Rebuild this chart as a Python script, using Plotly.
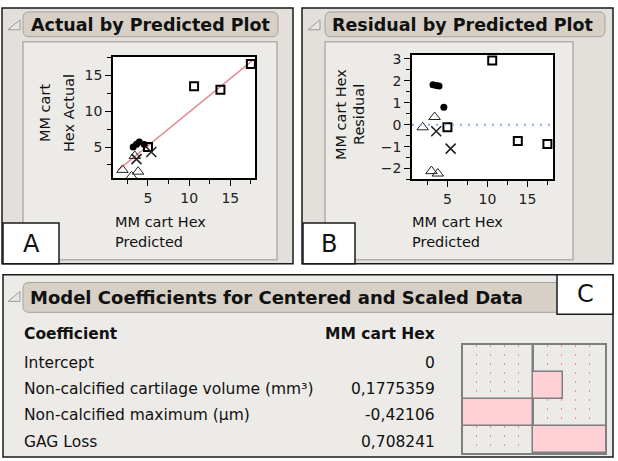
import plotly.graph_objects as go

W, H = 618, 461
FONT = "DejaVu Sans"

# --- data ---
# groups of points (predicted, actual, residual)
sq_pred = [5.0, 10.6, 13.8, 17.5]
sq_actual = [5.0, 13.5, 13.0, 16.6]
sq_resid = [-0.12, 2.93, -0.75, -0.88]

ci_pred = [3.2, 3.6, 3.95, 4.55]
ci_actual = [5.0, 5.4, 5.7, 5.35]
ci_resid = [1.82, 1.79, 1.77, 0.79]

tr_pred = [1.9, 3.4, 3.0, 3.8]
tr_actual = [1.8, 3.75, 0.9, 1.55]
tr_resid = [-0.12, 0.35, -2.12, -2.23]

xx_pred = [3.6, 5.4]
xx_actual = [3.3, 4.3]
xx_resid = [-0.3, -1.09]

fit_x = [1.4, 17.6]
fit_y = [1.8, 17.0]

coef_names = ["Intercept", "Non-calcified cartilage volume (mm³)",
              "Non-calcified maximum (µm)", "GAG Loss"]
coef_values = [0.0, 0.1775359, -0.42106, 0.708241]
coef_labels = ["0", "0,1775359", "-0,42106", "0,708241"]


def X(p):
    return p / W


def Y(p):
    return 1 - p / H


def rect(x0, y0, x1, y1, fill, line="rgba(0,0,0,0)", width=1):
    return dict(type="rect", xref="paper", yref="paper", layer="below",
                x0=X(x0), x1=X(x1), y0=Y(y1), y1=Y(y0),
                fillcolor=fill, line=dict(color=line, width=width))


def rrect(x0, y0, x1, y1, r, fill, line):
    pts = [("M", x0 + r, y0), ("L", x1 - r, y0), ("Q", x1, y0, x1, y0 + r),
           ("L", x1, y1 - r), ("Q", x1, y1, x1 - r, y1), ("L", x0 + r, y1),
           ("Q", x0, y1, x0, y1 - r), ("L", x0, y0 + r), ("Q", x0, y0, x0 + r, y0)]
    path = ""
    for p in pts:
        cmd, vals = p[0], p[1:]
        coords = []
        for i in range(0, len(vals), 2):
            coords.append(f"{X(vals[i]):.5f},{Y(vals[i + 1]):.5f}")
        path += cmd + " " + " ".join(coords) + " "
    return dict(type="path", xref="paper", yref="paper", layer="below",
                path=path + "Z", fillcolor=fill, line=dict(color=line, width=1))


def tri(x0, y0):
    path = f"M {X(x0):.5f},{Y(y0 + 10):.5f} L {X(x0 + 12):.5f},{Y(y0 + 10):.5f} L {X(x0 + 12):.5f},{Y(y0):.5f} Z"
    return dict(type="path", xref="paper", yref="paper", layer="below",
                path=path, fillcolor="#E8E6E3", line=dict(color="#9A9A9A", width=1))


def text(s, x, y, size=15, bold=False, xanchor="left", angle=0):
    return dict(text=f"<b>{s}</b>" if bold else s, x=X(x), y=Y(y),
                xref="paper", yref="paper", showarrow=False,
                xanchor=xanchor, yanchor="middle", textangle=angle,
                font=dict(family=FONT, size=size, color="#111"))


PANEL = "#E3E0DC"
INNER = "#EDEBE8"
HEAD = "#D6D0C6"

shapes = [
    # panel A
    rect(2, 4, 293, 262, PANEL, "#1A1A1A", 1.5),
    rect(23, 38, 277, 258, INNER, "#B3AFAA", 1.5),
    rrect(23, 8, 278, 33, 6, HEAD, "#A8A198"),
    tri(8, 16),
    rect(113, 53, 255, 176, "white"),
    rect(3, 221, 59, 262, "white", "#1A1A1A", 1.5),
    # panel B
    rect(302, 4, 613, 262, PANEL, "#1A1A1A", 1.5),
    rect(325, 38, 573, 258, INNER, "#B3AFAA", 1.5),
    rrect(325, 8, 605, 33, 6, HEAD, "#A8A198"),
    tri(308, 16),
    rect(412, 51, 553, 177, "white"),
    rect(303, 221, 355, 262, "white", "#1A1A1A", 1.5),
    # panel C
    rect(3, 273, 613, 457, INNER, "#1A1A1A", 1.5),
    rrect(23, 281, 575, 311, 6, HEAD, "#A8A198"),
    tri(8, 290),
    rect(557, 273, 613, 313, "white", "#1A1A1A", 1.5),
    # zero reference line in residual plot
    dict(type="line", xref="x2 domain", yref="y2", x0=0, x1=1, y0=0, y1=0,
         line=dict(color="#8FA3EE", width=2, dash="2px,6px")),
]

annotations = [
    text("Actual by Predicted Plot", 29, 21, 17.5, True),
    text("Residual by Predicted Plot", 330, 21, 17.5, True),
    text("Model Coefficients for Centered and Scaled Data", 28, 296, 18, True),
    text("A", 31, 242, 24, xanchor="center"),
    text("B", 329, 242, 24, xanchor="center"),
    text("C", 585, 293, 24, xanchor="center"),
    text("MM cart", 45, 110, 14.5, xanchor="center", angle=-90),
    text("Hex Actual", 69, 110, 14.5, xanchor="center", angle=-90),
    text("MM cart Hex", 341, 112, 14.5, xanchor="center", angle=-90),
    text("Residual", 359, 112, 14.5, xanchor="center", angle=-90),
    text("MM cart Hex", 113, 220, 14.5),
    text("Predicted", 113, 240, 14.5),
    text("MM cart Hex", 410, 220, 14.5),
    text("Predicted", 410, 240, 14.5),
    text("Coefficient", 22, 333, 15.5, True),
    text("MM cart Hex", 437, 333, 15.5, True, xanchor="right"),
]
row_y = [362, 388, 415, 442]
for name, lab, ry in zip(coef_names, coef_labels, row_y):
    annotations.append(text(name, 22, ry, 15.5))
    annotations.append(text(lab, 437, ry, 15.5, xanchor="right"))

fig = go.Figure()

groups = [
    (sq_pred, sq_actual, sq_resid, dict(symbol="square-open", size=8, color="black", line=dict(width=2, color="black"))),
    (ci_pred, ci_actual, ci_resid, dict(symbol="circle", size=7, color="black")),
    (tr_pred, tr_actual, tr_resid, dict(symbol="triangle-up-open", size=10, color="#222", line=dict(width=1, color="#222"))),
    (xx_pred, xx_actual, xx_resid, dict(symbol="x-thin-open", size=10, color="#222", line=dict(width=1.6, color="#222"))),
]

fig.add_trace(go.Scatter(x=fit_x, y=fit_y, mode="lines", xaxis="x", yaxis="y",
                         line=dict(color="#E58C96", width=1.5), hoverinfo="skip"))
for pred, act, res, mk in groups:
    fig.add_trace(go.Scatter(x=pred, y=act, mode="markers", marker=mk, xaxis="x", yaxis="y"))
    fig.add_trace(go.Scatter(x=pred, y=res, mode="markers", marker=mk, xaxis="x2", yaxis="y2"))

fig.add_trace(go.Bar(y=coef_names, x=coef_values, orientation="h", xaxis="x3", yaxis="y3",
                     marker=dict(color="#FFD0D5", line=dict(color="#7F7F7F", width=1.5))))

ax_common = dict(showline=True, mirror=True, linecolor="black", linewidth=1.5,
                 ticks="outside", ticklen=6, tickcolor="black", showgrid=False,
                 zeroline=False, tickfont=dict(family=FONT, size=14, color="#222"))

fig.update_layout(
    width=W, height=H,
    margin=dict(l=0, r=0, t=0, b=0),
    paper_bgcolor="white",
    plot_bgcolor="rgba(0,0,0,0)",
    showlegend=False,
    bargap=0,
    shapes=shapes,
    annotations=annotations,
    xaxis=dict(domain=[X(113), X(255)], range=[0.75, 18.0], dtick=5, anchor="y",
               minor=dict(dtick=2.5, ticks="outside", ticklen=4, tickcolor="black"), **ax_common),
    yaxis=dict(domain=[Y(176), Y(53)], range=[0.6, 17.65], dtick=5, anchor="x",
               minor=dict(dtick=2.5, ticks="outside", ticklen=4, tickcolor="black"), **ax_common),
    xaxis2=dict(domain=[X(412), X(553)], range=[0.57, 18.2], dtick=5, anchor="y2",
                minor=dict(dtick=2.5, ticks="outside", ticklen=4, tickcolor="black"), **ax_common),
    yaxis2=dict(domain=[Y(177), Y(51)], range=[-2.5, 3.2], dtick=1, anchor="x2",
                minor=dict(dtick=0.5, ticks="outside", ticklen=4, tickcolor="black"), **ax_common),
    xaxis3=dict(domain=[X(463), X(605)], range=[-0.42, 0.43], anchor="y3",
                tick0=0, dtick=0.085, showgrid=True, gridcolor="#EE8C9C", gridwidth=1,
                griddash="2px,7px", zeroline=True, zerolinecolor="#7F7F7F", zerolinewidth=1.5,
                showticklabels=False, ticks="", showline=True, mirror=True,
                linecolor="#7F7F7F", linewidth=1.5),
    yaxis3=dict(domain=[Y(453), Y(344)], anchor="x3", autorange="reversed",
                showticklabels=False, ticks="", showgrid=False, zeroline=False,
                showline=True, mirror=True, linecolor="#7F7F7F", linewidth=1.5),
)

# the page's default body margin would push the 618x461 figure off the window
fig.write_html("out.html", config={"displayModeBar": False},
               post_script="document.body.style.margin='0';")
